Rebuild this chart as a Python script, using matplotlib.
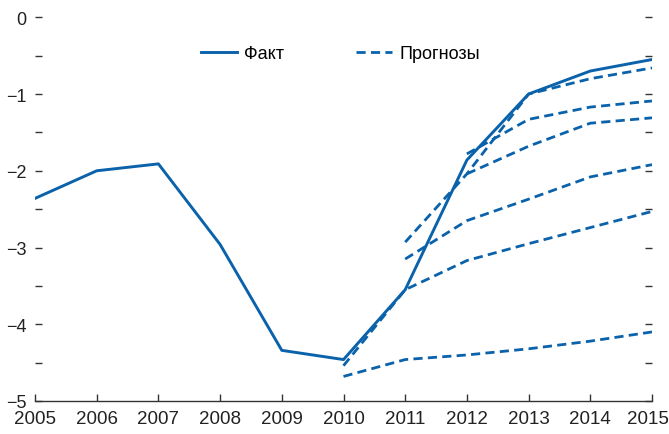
import matplotlib
matplotlib.use("Agg")
import matplotlib.pyplot as plt
import matplotlib.transforms as mtransforms
from matplotlib.ticker import MultipleLocator

plt.rcParams['font.family'] = ['Liberation Sans', 'DejaVu Sans']

years = list(range(2005, 2016))
fact = [-2.36, -2.0, -1.91, -2.96, -4.34, -4.46, -3.55, -1.86, -1.0, -0.70, -0.55]

fc_1_years = [2010, 2011, 2012, 2013, 2014, 2015]
fc_1 = [-4.68, -4.46, -4.40, -4.32, -4.22, -4.10]
fc_2_years = [2010, 2011, 2012, 2013, 2014, 2015]
fc_2 = [-4.54, -3.55, -3.17, -2.95, -2.74, -2.53]
fc_3_years = [2011, 2012, 2013, 2014, 2015]
fc_3 = [-3.15, -2.65, -2.37, -2.08, -1.92]
fc_4_years = [2011, 2012, 2013, 2014, 2015]
fc_4 = [-2.93, -2.04, -1.0, -0.80, -0.66]
fc_5_years = [2012, 2013, 2014, 2015]
fc_5 = [-2.04, -1.68, -1.38, -1.31]
fc_6_years = [2012, 2013, 2014, 2015]
fc_6 = [-1.78, -1.33, -1.17, -1.09]

forecasts = [(fc_1_years, fc_1), (fc_2_years, fc_2), (fc_3_years, fc_3),
             (fc_4_years, fc_4), (fc_5_years, fc_5), (fc_6_years, fc_6)]

blue = '#0a62ab'

fig = plt.figure(figsize=(6.69, 4.35), dpi=100)
ax = fig.add_axes([35 / 669, 33 / 435, 617 / 669, 383.7 / 435])

for i, (yrs, vals) in enumerate(forecasts):
    ax.plot(yrs, vals, color=blue, lw=2.0, dashes=(3.3, 1.9),
            label='Прогнозы' if i == 0 else None)
ax.plot(years, fact, color=blue, lw=2.1, label='Факт')

ax.set_xlim(2005, 2015)
ax.set_ylim(-5, 0)
ax.set_xticks(years)
ax.yaxis.set_major_locator(MultipleLocator(1))
ax.yaxis.set_minor_locator(MultipleLocator(0.5))

for s in ['top', 'left', 'right']:
    ax.spines[s].set_visible(False)
ax.spines['bottom'].set_color('#333333')
ax.spines['bottom'].set_linewidth(1)

ax.tick_params(axis='x', direction='in', length=5, width=1, color='#333333',
               labelsize=13.5, pad=6.5, labelcolor='#222222')
ax.tick_params(axis='y', which='both', direction='in', length=5, width=1,
               color='#333333', right=True, labelsize=13, pad=6,
               labelcolor='#222222')

# keep the last year label inside the picture
last = ax.get_xticklabels()[-1]
last.set_transform(last.get_transform() +
                   mtransforms.ScaledTranslation(-4 / 100, 0, fig.dpi_scale_trans))

handles, labels = ax.get_legend_handles_labels()
order = [labels.index('Факт'), labels.index('Прогнозы')]
ax.legend([handles[k] for k in order], [labels[k] for k in order],
          loc='center', bbox_to_anchor=(0.495, 0.905), ncol=2, frameon=False,
          fontsize=13, handlelength=2.0, columnspacing=4.0,
          handletextpad=0.4)

fig.savefig('out.png', dpi=100)
